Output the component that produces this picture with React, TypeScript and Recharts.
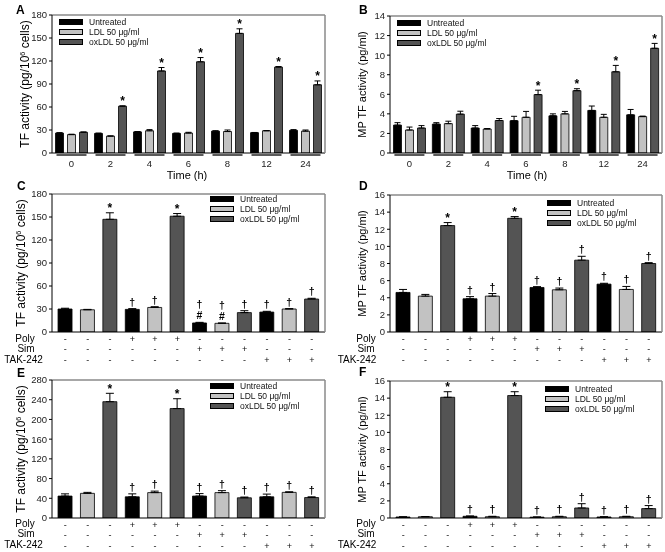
import React from 'react';
import { BarChart, Bar, XAxis, YAxis, ErrorBar, LabelList, Cell } from 'recharts';

const FONT = 'Arial, "Liberation Sans", Helvetica, sans-serif';

const seriesNames = ['Untreated', 'LDL 50 \u03BCg/ml', 'oxLDL 50 \u03BCg/ml'];
const seriesColors = ['#000000', '#c2c2c2', '#545454'];

// Panels A & B (time course)
const timeLabels = ['0', '2', '4', '6', '8', '12', '24'];

const aUntreated = [26, 25.5, 27.5, 25.5, 28.5, 26.5, 29.5];
const aLDL = [24, 22, 29, 26, 28, 29, 28.5];
const aOxLDL = [27, 61, 107, 119, 156, 112, 89];
const aUntreatedErr = [0.5, 0.5, 0.5, 0.5, 0.5, 0.3, 1];
const aLDLErr = [0.5, 0.3, 1.5, 1, 2, 0.3, 1.5];
const aOxLDLErr = [0.5, 0.5, 4.5, 5.5, 6, 0.8, 5];
const aMarks = ['', '*', '*', '*', '*', '*', '*'];
const aTicks = [0, 30, 60, 90, 120, 150, 180];

const bUntreated = [2.85, 2.95, 2.55, 3.3, 3.8, 4.35, 3.9];
const bLDL = [2.35, 3.0, 2.45, 3.65, 4.0, 3.65, 3.72];
const bOxLDL = [2.55, 3.97, 3.32, 5.97, 6.37, 8.3, 10.7];
const bUntreatedErr = [0.25, 0.15, 0.25, 0.45, 0.2, 0.45, 0.55];
const bLDLErr = [0.3, 0.25, 0.05, 0.6, 0.25, 0.3, 0.05];
const bOxLDLErr = [0.25, 0.3, 0.2, 0.45, 0.2, 0.65, 0.5];
const bMarks = ['', '', '', '*', '*', '*', '*'];
const bTicks = [0, 2, 4, 6, 8, 10, 12, 14];

// Panels C-F (treatments)
const barSeries = [0, 1, 2, 0, 1, 2, 0, 1, 2, 0, 1, 2];
const polyRow = ['-', '-', '-', '+', '+', '+', '-', '-', '-', '-', '-', '-'];
const simRow = ['-', '-', '-', '-', '-', '-', '+', '+', '+', '-', '-', '-'];
const takRow = ['-', '-', '-', '-', '-', '-', '-', '-', '-', '+', '+', '+'];
const rowNames = ['Poly', 'Sim', 'TAK-242'];

const cValues = [30, 29, 147, 29.5, 32, 151, 11.8, 11.3, 25.3, 26, 30, 43];
const cErr = [1, 0.5, 8.5, 1, 1, 3.5, 0.8, 0.5, 2.5, 1, 0.5, 1];
const cMarks = ['', '', '*', '\u2020', '\u2020', '*', '\u2020#', '\u2020#', '\u2020', '\u2020', '\u2020', '\u2020'];
const cTicks = [0, 30, 60, 90, 120, 150, 180];

const dValues = [4.62, 4.19, 12.43, 3.88, 4.19, 13.28, 5.2, 4.93, 8.39, 5.59, 4.97, 8.0];
const dErr = [0.35, 0.2, 0.35, 0.25, 0.3, 0.2, 0.1, 0.2, 0.45, 0.1, 0.35, 0.1];
const dMarks = ['', '', '*', '\u2020', '\u2020', '*', '\u2020', '\u2020', '\u2020', '\u2020', '\u2020', '\u2020'];
const dTicks = [0, 2, 4, 6, 8, 10, 12, 14, 16];

const eValues = [44.5, 50, 236, 43, 51.5, 222, 44.5, 51.5, 41, 43, 52, 41.5];
const eErr = [4.5, 2, 17, 6, 3, 20, 5, 4, 1.5, 5.5, 1.2, 1.5];
const eMarks = ['', '', '*', '\u2020', '\u2020', '*', '\u2020', '\u2020', '\u2020', '\u2020', '\u2020', '\u2020'];
const eTicks = [0, 40, 80, 120, 160, 200, 240, 280];

const fValues = [0.12, 0.15, 14.1, 0.2, 0.15, 14.3, 0.1, 0.15, 1.17, 0.12, 0.15, 1.1];
const fErr = [0.02, 0.02, 0.65, 0.03, 0.05, 0.45, 0.02, 0.05, 0.5, 0.03, 0.05, 0.35];
const fMarks = ['', '', '*', '\u2020', '\u2020', '*', '\u2020', '\u2020', '\u2020', '\u2020', '\u2020', '\u2020'];
const fTicks = [0, 2, 4, 6, 8, 10, 12, 14, 16];

const FRAME = { stroke: '#8a8a8a', strokeWidth: 1.5 };
const AXIS = { stroke: '#000', strokeWidth: 1 };
const TICK_STYLE = { fontSize: 9.5, fill: '#222', fontFamily: FONT };

function markContent(values: number[], errs: number[], marks: string[]) {
  return (props: any) => {
    const idx = props.index;
    const mark = marks[idx];
    if (!mark) return null;
    const vb = props.viewBox || props;
    const x = Number(vb.x), y = Number(vb.y), w = Number(vb.width), h = Number(vb.height);
    const top = Math.min(y, y + h);
    const v = values[idx];
    const ppu = v > 0 ? Math.abs(h) / v : 0;
    const errTop = top - errs[idx] * ppu;
    const cx = x + w / 2;
    const chars = mark.split('');
    const out: any[] = [];
    let base = errTop;
    for (let j = chars.length - 1; j >= 0; j--) {
      const c = chars[j];
      if (j === chars.length - 1) base = c === '*' ? errTop - 0.5 : errTop - 3;
      else base -= 11;
      out.push(
        <text key={j} x={cx} y={base} textAnchor="middle" fontFamily={FONT}
          fontSize={c === '*' ? 12 : 10.5} fontWeight="bold" fill="#000">{c}</text>
      );
    }
    return <g>{out}</g>;
  };
}

const TimeTick = (props: any) => {
  const { x, y, payload } = props;
  return (
    <g>
      <line x1={x - 15} x2={x + 15} y1={y + 2} y2={y + 2} stroke="#333" strokeWidth={1.6} />
      <text x={x} y={y + 14} textAnchor="middle" fontSize={9.5} fill="#222" fontFamily={FONT}>{payload.value}</text>
    </g>
  );
};

const SignTick = (props: any) => {
  const { x, y, payload } = props;
  const i = Number(payload.value);
  return (
    <g fontFamily={FONT} fontSize={9} fill="#111">
      <text x={x} y={y + 10} textAnchor="middle">{polyRow[i]}</text>
      <text x={x} y={y + 20} textAnchor="middle">{simRow[i]}</text>
      <text x={x} y={y + 31} textAnchor="middle">{takRow[i]}</text>
    </g>
  );
};

function LegendBox({ left, top }: { left: number; top: number }) {
  return (
    <div style={{ position: 'absolute', left, top, fontFamily: FONT, fontSize: 8.5, color: '#111', lineHeight: '10px' }}>
      {seriesNames.map((n, k) => (
        <div key={n} style={{ display: 'flex', alignItems: 'center', height: 10, whiteSpace: 'nowrap' }}>
          <span style={{ display: 'inline-block', width: 24, height: 6, boxSizing: 'border-box', border: '1px solid #000', background: seriesColors[k], marginRight: 6 }} />
          {n}
        </div>
      ))}
    </div>
  );
}

type GroupedProps = {
  left: number; top: number; width: number; height: number; margin: any;
  yWidth: number; xHeight: number; max: number; ticks: number[];
  series: number[][]; errs: number[][]; marks: string[];
};

function GroupedPanel(p: GroupedProps) {
  const data = timeLabels.map((name, i) => ({
    name,
    v0: p.series[0][i], v1: p.series[1][i], v2: p.series[2][i],
    e0: [0, p.errs[0][i]], e1: [0, p.errs[1][i]], e2: [0, p.errs[2][i]],
    m: p.marks[i],
  }));
  return (
    <div style={{ position: 'absolute', left: p.left, top: p.top }}>
      <BarChart width={p.width} height={p.height} data={data} margin={p.margin} barCategoryGap="9%" barGap={4}>
        <XAxis dataKey="name" height={p.xHeight} tickSize={0} tickMargin={0} tickLine={false} axisLine={AXIS}
          interval={0} tick={(t: any) => <TimeTick {...t} />} />
        <XAxis xAxisId="top" orientation="top" dataKey="name" height={1} tick={false} tickLine={false} axisLine={FRAME} />
        <YAxis type="number" domain={[0, p.max]} ticks={p.ticks} interval={0} width={p.yWidth} tickSize={3} tickMargin={2}
          tick={TICK_STYLE} axisLine={AXIS} tickLine={{ stroke: '#000' }} allowDataOverflow />
        <YAxis yAxisId="right" orientation="right" type="number" domain={[0, p.max]} width={1} tick={false} tickLine={false} axisLine={FRAME} />
        <Bar dataKey="v0" fill={seriesColors[0]} stroke="#000" strokeWidth={0.8} isAnimationActive={false}>
          <ErrorBar dataKey="e0" width={3} stroke="#000" strokeWidth={1} direction="y" />
        </Bar>
        <Bar dataKey="v1" fill={seriesColors[1]} stroke="#000" strokeWidth={0.8} isAnimationActive={false}>
          <ErrorBar dataKey="e1" width={3} stroke="#000" strokeWidth={1} direction="y" />
        </Bar>
        <Bar dataKey="v2" fill={seriesColors[2]} stroke="#000" strokeWidth={0.8} isAnimationActive={false}>
          <ErrorBar dataKey="e2" width={3} stroke="#000" strokeWidth={1} direction="y" />
          <LabelList dataKey="m" content={markContent(p.series[2], p.errs[2], p.marks)} />
        </Bar>
      </BarChart>
    </div>
  );
}

type SingleProps = {
  left: number; top: number; width: number; height: number; margin: any;
  yWidth: number; xHeight: number; max: number; ticks: number[];
  values: number[]; errs: number[]; marks: string[];
};

function SinglePanel(p: SingleProps) {
  const data = p.values.map((v, i) => ({ name: String(i), v, e: [0, p.errs[i]], m: p.marks[i] }));
  return (
    <div style={{ position: 'absolute', left: p.left, top: p.top }}>
      <BarChart width={p.width} height={p.height} data={data} margin={p.margin} barCategoryGap="18%">
        <XAxis dataKey="name" height={p.xHeight} tickSize={0} tickMargin={0} tickLine={false} axisLine={AXIS}
          interval={0} padding={{ left: 2, right: 2 }} tick={(t: any) => <SignTick {...t} />} />
        <XAxis xAxisId="top" orientation="top" dataKey="name" height={1} tick={false} tickLine={false} axisLine={FRAME} />
        <YAxis type="number" domain={[0, p.max]} ticks={p.ticks} interval={0} width={p.yWidth} tickSize={3} tickMargin={2}
          tick={TICK_STYLE} axisLine={AXIS} tickLine={{ stroke: '#000' }} allowDataOverflow />
        <YAxis yAxisId="right" orientation="right" type="number" domain={[0, p.max]} width={1} tick={false} tickLine={false} axisLine={FRAME} />
        <Bar dataKey="v" stroke="#000" strokeWidth={0.8} isAnimationActive={false}>
          {data.map((d, i) => <Cell key={d.name} fill={seriesColors[barSeries[i]]} />)}
          <ErrorBar dataKey="e" width={4} stroke="#000" strokeWidth={1} direction="y" />
          <LabelList dataKey="m" content={markContent(p.values, p.errs, p.marks)} />
        </Bar>
      </BarChart>
    </div>
  );
}

function YLabel({ cx, cy, fs, tf }: { cx: number; cy: number; fs: number; tf: boolean }) {
  const bx = cx + fs * 0.35;
  return (
    <text transform={`translate(${bx},${cy}) rotate(-90)`} x={0} y={0} textAnchor="middle" fontSize={fs} fontFamily={FONT} fill="#000">
      {tf ? (
        <>
          TF activity (pg/10<tspan dy={-4} fontSize={fs * 0.6}>6</tspan><tspan dy={4}> cells)</tspan>
        </>
      ) : 'MP TF activity (pg/ml)'}
    </text>
  );
}

export default function App() {
  const leftW = 332, rightW = 335;
  return (
    <div style={{ position: 'absolute', left: 0, top: 0, width: 665, height: 552, background: '#fff', fontFamily: FONT, overflow: 'hidden', filter: 'grayscale(1)' }}>
      <GroupedPanel left={0} top={0} width={leftW} height={185} margin={{ top: 14, right: 6, left: 0, bottom: 2 }}
        yWidth={52} xHeight={30} max={180} ticks={aTicks}
        series={[aUntreated, aLDL, aOxLDL]} errs={[aUntreatedErr, aLDLErr, aOxLDLErr]} marks={aMarks} />
      <GroupedPanel left={330} top={0} width={rightW} height={185} margin={{ top: 15, right: 2, left: 0, bottom: 2 }}
        yWidth={60} xHeight={30} max={14} ticks={bTicks}
        series={[bUntreated, bLDL, bOxLDL]} errs={[bUntreatedErr, bLDLErr, bOxLDLErr]} marks={bMarks} />
      <SinglePanel left={0} top={180} width={leftW} height={190} margin={{ top: 13, right: 6, left: 0, bottom: 2 }}
        yWidth={52} xHeight={36} max={180} ticks={cTicks} values={cValues} errs={cErr} marks={cMarks} />
      <SinglePanel left={330} top={180} width={rightW} height={190} margin={{ top: 14, right: 2, left: 0, bottom: 2 }}
        yWidth={60} xHeight={36} max={16} ticks={dTicks} values={dValues} errs={dErr} marks={dMarks} />
      <SinglePanel left={0} top={365} width={leftW} height={187} margin={{ top: 14, right: 6, left: 0, bottom: 2 }}
        yWidth={52} xHeight={32} max={280} ticks={eTicks} values={eValues} errs={eErr} marks={eMarks} />
      <SinglePanel left={330} top={365} width={rightW} height={187} margin={{ top: 15, right: 2, left: 0, bottom: 2 }}
        yWidth={60} xHeight={32} max={16} ticks={fTicks} values={fValues} errs={fErr} marks={fMarks} />

      <LegendBox left={59} top={17} />
      <LegendBox left={397} top={18} />
      <LegendBox left={210} top={194} />
      <LegendBox left={547} top={198} />
      <LegendBox left={210} top={381} />
      <LegendBox left={545} top={384} />

      <svg width={665} height={552} style={{ position: 'absolute', left: 0, top: 0, pointerEvents: 'none' }}>
        <g fontFamily={FONT} fontWeight="bold" fontSize={12} fill="#000">
          <text x={16} y={14}>A</text>
          <text x={359} y={14}>B</text>
          <text x={17} y={190}>C</text>
          <text x={359} y={190}>D</text>
          <text x={17} y={377}>E</text>
          <text x={359} y={376}>F</text>
        </g>
        <YLabel cx={25} cy={84} fs={12} tf />
        <YLabel cx={362} cy={84.5} fs={11} tf={false} />
        <YLabel cx={21} cy={263} fs={12} tf />
        <YLabel cx={362} cy={263.5} fs={11} tf={false} />
        <YLabel cx={21} cy={449} fs={12} tf />
        <YLabel cx={362} cy={449.5} fs={11} tf={false} />
        <g fontFamily={FONT} fontSize={11} fill="#000" textAnchor="middle">
          <text x={187} y={178.5}>Time (h)</text>
          <text x={527} y={178.5}>Time (h)</text>
        </g>
        <g fontFamily={FONT} fontSize={10} fill="#000" textAnchor="middle">
          <text x={25} y={342}>{rowNames[0]}</text>
          <text x={26} y={352}>{rowNames[1]}</text>
          <text x={23.5} y={363}>{rowNames[2]}</text>
          <text x={366} y={342}>{rowNames[0]}</text>
          <text x={366} y={352}>{rowNames[1]}</text>
          <text x={357} y={363}>{rowNames[2]}</text>
          <text x={25} y={527}>{rowNames[0]}</text>
          <text x={26} y={537}>{rowNames[1]}</text>
          <text x={23.5} y={548}>{rowNames[2]}</text>
          <text x={366} y={527}>{rowNames[0]}</text>
          <text x={366} y={537}>{rowNames[1]}</text>
          <text x={357} y={548}>{rowNames[2]}</text>
        </g>
      </svg>
    </div>
  );
}
